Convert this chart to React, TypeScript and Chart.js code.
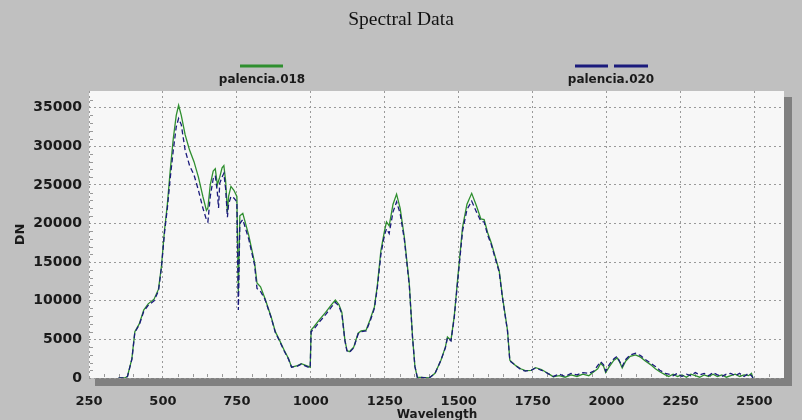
import React, { useEffect, useRef } from "react";
import { Chart, registerables } from "chart.js";

Chart.register(...registerables);

const TITLE = "Spectral Data";
const SERIES_NAMES = ["palencia.018", "palencia.020"];
const X_LABEL = "Wavelength";
const Y_LABEL = "DN";
const X_TICKS = [250, 500, 750, 1000, 1250, 1500, 1750, 2000, 2250, 2500];
const Y_TICKS = [0, 5000, 10000, 15000, 20000, 25000, 30000, 35000];

const wavelength = [
  350, 370, 380, 395, 405, 420, 435, 450, 470, 485, 495, 505, 515, 525, 535, 545, 553, 562, 575, 590,
  605, 620, 635, 647, 652, 660, 670, 677, 684, 688, 692, 700, 706, 712, 718, 722, 730, 740, 750, 755,
  760, 770, 790, 810, 818, 830, 845, 866, 880, 894, 910, 925, 935, 955, 968, 985, 998, 1001, 1010, 1030,
  1050, 1070, 1083, 1095, 1105, 1115, 1122, 1130, 1145, 1160, 1170, 1187, 1200, 1215, 1225, 1237, 1249, 1256, 1265, 1278,
  1290, 1302, 1316, 1333, 1344, 1352, 1360, 1400, 1420, 1440, 1455, 1462, 1474, 1485, 1496, 1513, 1528, 1544, 1560, 1575,
  1586, 1598, 1610, 1625, 1637, 1648, 1665, 1673, 1693, 1710, 1725, 1745, 1760, 1780, 1794, 1810, 1820, 1840, 1860, 1880,
  1900, 1920, 1940, 1957, 1970, 1980, 1990, 1997, 2010, 2025, 2036, 2045, 2053, 2065, 2080, 2098, 2115, 2131, 2150, 2165,
  2180, 2199, 2210, 2225, 2240, 2255, 2270, 2285, 2300, 2315, 2330, 2345, 2360, 2375, 2390, 2405, 2420, 2435, 2450, 2465,
  2480, 2490, 2495,
];

const palencia018 = [
  0, 0, 200, 2500, 6000, 7000, 8800, 9600, 10200, 11500, 14500, 19000, 22500, 27000, 31000, 34000, 35300, 34000, 31500, 29500,
  28000, 26000, 23500, 21700, 22000, 25000, 26800, 27100, 25000, 25500, 26000, 27200, 27500, 25500, 21500, 23500, 24800, 24300, 23500, 11000,
  21000, 21300, 18500, 14900, 12300, 11800, 10300, 7900, 6000, 4900, 3600, 2500, 1400, 1600, 1850, 1600, 1400, 6200, 6600, 7600,
  8500, 9500, 10100, 9500, 8500, 5000, 3600, 3400, 4000, 5800, 6100, 6200, 7500, 9200, 12000, 16500, 19000, 20200, 19700, 22500,
  23800, 22000, 18300, 12200, 5300, 1500, 100, 0, 600, 2300, 4000, 5300, 4900, 8000, 12600, 19500, 22500, 23900, 22300, 20600,
  20500, 18800, 17500, 15500, 13900, 10500, 6200, 2300, 1600, 1200, 950, 1000, 1340, 1100, 780, 400, 150, 300, 100, 400,
  200, 500, 300, 800, 1200, 1900, 1500, 700, 1500, 2300, 2600, 2000, 1300, 2200, 2800, 3000, 2700, 2200, 1700, 1200,
  800, 400, 200, 500, 200, 400, 100, 500, 300, 100, 400, 200, 500, 200, 400, 100, 300, 500, 200, 400,
  300, 600, 0,
];

const palencia020 = [
  0, 0, 200, 2400, 5900, 6900, 8600, 9400, 10000, 11300, 14300, 18700, 22000, 26000, 29500, 32500, 33600, 32800, 29500, 27500,
  26300, 24300, 22000, 20500, 20200, 23500, 25800, 26200, 24000, 22000, 25200, 26000, 26500, 24500, 20800, 22500, 23500, 23300, 22800, 8800,
  20000, 20500, 18000, 14600, 11600, 11200, 10200, 7800, 5900, 4800, 3500, 2400, 1400, 1550, 1800, 1500, 1300, 6000, 6300, 7300,
  8200, 9200, 9800, 9300, 8300, 4900, 3500, 3300, 3900, 5700, 6000, 6100, 7300, 9000, 11700, 16000, 18500, 19300, 18700, 21500,
  22800, 21300, 18000, 12000, 5200, 1500, 100, 0, 600, 2300, 3900, 5200, 4800, 7800, 12300, 19000, 21800, 22900, 21500, 20300,
  20200, 18500, 17300, 15300, 13700, 10400, 6100, 2200, 1600, 1100, 900, 1000, 1300, 1000, 750, 400, 200, 500, 200, 600,
  400, 700, 600, 900, 1600, 2100, 1700, 900, 1800, 2500, 2800, 2100, 1500, 2400, 3000, 3200, 2900, 2400, 1900, 1500,
  1000, 600, 500, 300, 600, 200, 500, 300, 700, 400, 600, 300, 700, 400, 200, 500, 600, 300, 600, 200,
  600, 300, 0,
];

const GREEN = "#2f8f2f";
const BLUE = "#1b1b7c";
const SANS = "'DejaVu Sans', sans-serif";

export default function App() {
  const ref = useRef<HTMLCanvasElement | null>(null);

  useEffect(() => {
    document.body.style.margin = "0";
    const canvas = ref.current;
    if (!canvas) return;

    const framePlugin = {
      id: "frame",
      beforeDraw(chart: any) {
        const { ctx, chartArea: a } = chart;
        ctx.save();
        ctx.fillStyle = "#c0c0c0";
        ctx.fillRect(0, 0, chart.width, chart.height);
        ctx.fillStyle = "#808080";
        ctx.fillRect(a.left + 6, a.top + 6, a.right - a.left + 2, a.bottom - a.top + 2);
        ctx.fillStyle = "#f7f7f7";
        ctx.fillRect(a.left, a.top, a.right - a.left, a.bottom - a.top);
        ctx.restore();
      },
      beforeDatasetsDraw(chart: any) {
        const { ctx, chartArea: a, scales } = chart;
        ctx.save();
        ctx.strokeStyle = "#999999";
        ctx.lineWidth = 1;
        for (let v = 300; v < 2600; v += 50) {
          if (v % 250 === 0) continue;
          const x = Math.round(scales.x.getPixelForValue(v)) + 0.5;
          ctx.beginPath();
          ctx.moveTo(x, a.bottom - 1);
          ctx.lineTo(x, a.bottom - 4);
          ctx.stroke();
        }
        for (let v = 1000; v < 37000; v += 1000) {
          if (v % 5000 === 0) continue;
          const y = Math.round(scales.y.getPixelForValue(v)) + 0.5;
          ctx.beginPath();
          ctx.moveTo(a.left + 1, y);
          ctx.lineTo(a.left + 4, y);
          ctx.stroke();
        }
        ctx.restore();
      },
      afterDraw(chart: any) {
        const { ctx, chartArea: a } = chart;
        ctx.save();
        ctx.fillStyle = "#111111";
        ctx.textAlign = "center";
        ctx.textBaseline = "middle";
        ctx.font = "19.5px 'Liberation Serif', serif";
        ctx.fillText(TITLE, 401, 20);

        // legend
        ctx.lineWidth = 3;
        ctx.strokeStyle = GREEN;
        ctx.beginPath();
        ctx.moveTo(240, 66);
        ctx.lineTo(283, 66);
        ctx.stroke();
        ctx.strokeStyle = BLUE;
        ctx.beginPath();
        ctx.moveTo(575, 66);
        ctx.lineTo(608, 66);
        ctx.moveTo(614, 66);
        ctx.lineTo(648, 66);
        ctx.stroke();
        ctx.fillStyle = "#1a1a1a";
        ctx.font = `bold 12px ${SANS}`;
        ctx.fillText(SERIES_NAMES[0], 262, 80);
        ctx.fillText(SERIES_NAMES[1], 611, 80);

        // axis titles
        ctx.font = `bold 12px ${SANS}`;
        ctx.textBaseline = "top";
        ctx.fillText(X_LABEL, 437, 409);
        ctx.translate(21, (a.top + a.bottom) / 2);
        ctx.rotate(-Math.PI / 2);
        ctx.textBaseline = "middle";
        ctx.font = `bold 13px ${SANS}`;
        ctx.fillText(Y_LABEL, 0, 0);
        ctx.restore();
      },
    };

    const toPts = (ys: number[]) => wavelength.map((x, i) => ({ x, y: ys[i] }));

    const chart = new Chart(canvas, {
      type: "line",
      data: {
        datasets: [
          {
            label: SERIES_NAMES[1],
            data: toPts(palencia020),
            borderColor: BLUE,
            borderWidth: 1.3,
            borderDash: [5, 3],
            pointRadius: 0,
            tension: 0,
            order: 1,
          },
          {
            label: SERIES_NAMES[0],
            data: toPts(palencia018),
            borderColor: GREEN,
            borderWidth: 1.3,
            pointRadius: 0,
            tension: 0,
            order: 2,
          },
        ],
      },
      options: {
        responsive: false,
        animation: false,
        devicePixelRatio: 1,
        parsing: false as any,
        layout: { padding: { left: 0, right: 18, top: 91, bottom: 0 } },
        plugins: {
          legend: { display: false },
          title: { display: false },
          tooltip: { enabled: false },
        },
        scales: {
          x: {
            type: "linear",
            min: 250,
            max: 2600,
            afterBuildTicks(scale: any) {
              scale.ticks = X_TICKS.map((v) => ({ value: v }));
            },
            afterFit(scale: any) {
              scale.height = 42;
            },
            border: { display: false, dash: [2, 3] },
            grid: {
              color: "#9a9a9a",
              lineWidth: 1,
              drawTicks: false,
            },
            ticks: {
              color: "#1a1a1a",
              font: { family: SANS, size: 13, weight: "bold" },
              padding: 16,
              maxRotation: 0,
              autoSkip: false,
              callback: (v: any) => String(v),
            },
          },
          y: {
            type: "linear",
            min: 0,
            max: 37150,
            afterBuildTicks(scale: any) {
              scale.ticks = Y_TICKS.map((v) => ({ value: v }));
            },
            afterFit(scale: any) {
              scale.width = 89;
            },
            border: { display: false, dash: [2, 3] },
            grid: {
              color: "#9a9a9a",
              lineWidth: 1,
              drawTicks: false,
            },
            ticks: {
              color: "#1a1a1a",
              font: { family: SANS, size: 14, weight: "bold" },
              padding: 7,
              autoSkip: false,
              callback: (v: any) => String(v),
            },
          },
        },
      },
      plugins: [framePlugin],
    });

    return () => chart.destroy();
  }, []);

  return (
    <div style={{ width: 802, height: 420 }}>
      <canvas ref={ref} width={802} height={420} style={{ display: "block" }} />
    </div>
  );
}
